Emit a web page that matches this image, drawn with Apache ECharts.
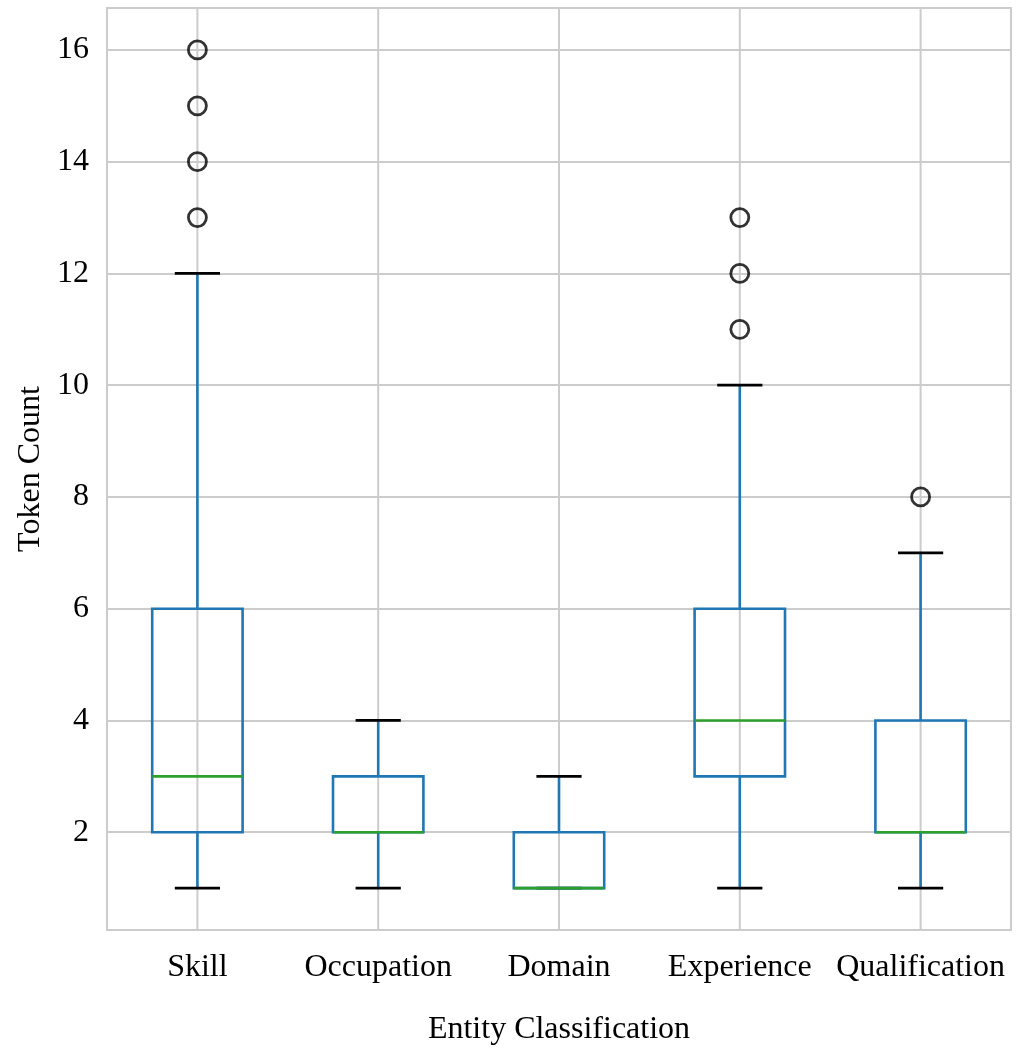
<!DOCTYPE html>
<html>
<head>
<meta charset="utf-8">
<script src="https://cdn.jsdelivr.net/npm/echarts@6/dist/echarts.min.js"></script>
<style>
html,body{margin:0;padding:0;background:#fff;}
#chart{width:1017px;height:1051px;}
</style>
</head>
<body>
<div id="chart"></div>
<script>
const categories = ['Skill', 'Occupation', 'Domain', 'Experience', 'Qualification'];
const whiskerLow = [1, 1, 1, 1, 1];
const q1 = [2, 2, 1, 3, 2];
const median = [3, 2, 1, 4, 2];
const q3 = [6, 3, 2, 6, 4];
const whiskerHigh = [12, 4, 3, 10, 7];
const outliers = [
  [13, 14, 15, 16],
  [],
  [],
  [11, 12, 13],
  [8]
];
const yMin = 0.25, yMax = 16.75;

const boxData = categories.map((c, i) => [i, whiskerLow[i], q1[i], median[i], q3[i], whiskerHigh[i]]);
const flierData = [];
outliers.forEach((arr, i) => arr.forEach(v => flierData.push([i, v])));

const FONT = '"Liberation Serif", "Times New Roman", serif';
const BLUE = '#1f77b4', GREEN = '#2ca02c', GRID = '#cccccc';

const chart = echarts.init(document.getElementById('chart'), null, {renderer: 'canvas'});
chart.setOption({
  animation: false,
  backgroundColor: '#ffffff',
  grid: {left: 107, right: 6, top: 8, bottom: 121, show: true, borderColor: GRID, borderWidth: 2,
         containLabel: false, outerBoundsMode: 'none'},
  xAxis: {
    type: 'category',
    data: categories,
    boundaryGap: true,
    name: 'Entity Classification',
    nameLocation: 'middle',
    nameGap: 84,
    nameTextStyle: {fontFamily: FONT, fontSize: 32, color: '#000'},
    axisLine: {show: false},
    axisTick: {show: false},
    axisLabel: {fontFamily: FONT, fontSize: 32, color: '#000', margin: 22, interval: 0},
    splitLine: {show: false}
  },
  yAxis: {
    type: 'value',
    min: yMin,
    max: yMax,
    splitNumber: 8,
    name: 'Token Count',
    nameLocation: 'middle',
    nameGap: 60,
    nameTextStyle: {fontFamily: FONT, fontSize: 32, color: '#000'},
    axisLine: {show: false},
    axisTick: {show: false},
    axisLabel: {
      fontFamily: FONT, fontSize: 32, color: '#000', margin: 18,
      showMinLabel: false, showMaxLabel: false,
      formatter: v => (Math.abs(v - Math.round(v)) < 1e-9 ? String(Math.round(v)) : '')
    },
    splitLine: {show: true, lineStyle: {color: GRID, width: 2}}
  },
  series: [
    {
      type: 'custom',
      data: boxData,
      z: 3,
      renderItem: function (params, api) {
        const x = api.value(0);
        const pLow = api.coord([x, api.value(1)]);
        const pQ1 = api.coord([x, api.value(2)]);
        const pMed = api.coord([x, api.value(3)]);
        const pQ3 = api.coord([x, api.value(4)]);
        const pHigh = api.coord([x, api.value(5)]);
        const gTop = api.coord([x, yMax]);
        const gBot = api.coord([x, yMin]);
        const band = api.size([1, 0])[0];
        const bw = band * 0.5, cw = band * 0.25;
        const cx = pMed[0];
        return {
          type: 'group',
          children: [
            {type: 'line', z2: 0, shape: {x1: cx, y1: gTop[1], x2: cx, y2: gBot[1]}, style: {stroke: GRID, lineWidth: 2}},
            {type: 'line', z2: 1, shape: {x1: cx, y1: pQ1[1], x2: cx, y2: pLow[1]}, style: {stroke: BLUE, lineWidth: 2.6}},
            {type: 'line', z2: 1, shape: {x1: cx, y1: pQ3[1], x2: cx, y2: pHigh[1]}, style: {stroke: BLUE, lineWidth: 2.6}},
            {type: 'line', z2: 2, shape: {x1: cx - cw / 2, y1: pLow[1], x2: cx + cw / 2, y2: pLow[1]}, style: {stroke: '#000', lineWidth: 2.8}},
            {type: 'line', z2: 2, shape: {x1: cx - cw / 2, y1: pHigh[1], x2: cx + cw / 2, y2: pHigh[1]}, style: {stroke: '#000', lineWidth: 2.8}},
            {type: 'rect', z2: 3, shape: {x: cx - bw / 2, y: pQ3[1], width: bw, height: pQ1[1] - pQ3[1]}, style: {stroke: BLUE, fill: null, lineWidth: 2.6}},
            {type: 'line', z2: 4, shape: {x1: cx - bw / 2, y1: pMed[1], x2: cx + bw / 2, y2: pMed[1]}, style: {stroke: GREEN, lineWidth: 2.6}}
          ]
        };
      }
    },
    {
      type: 'scatter',
      data: flierData,
      z: 4,
      symbol: 'circle',
      symbolSize: 18,
      itemStyle: {color: 'rgba(0,0,0,0)', borderColor: '#000', borderWidth: 2.8}
    }
  ]
});
</script>
</body>
</html>
